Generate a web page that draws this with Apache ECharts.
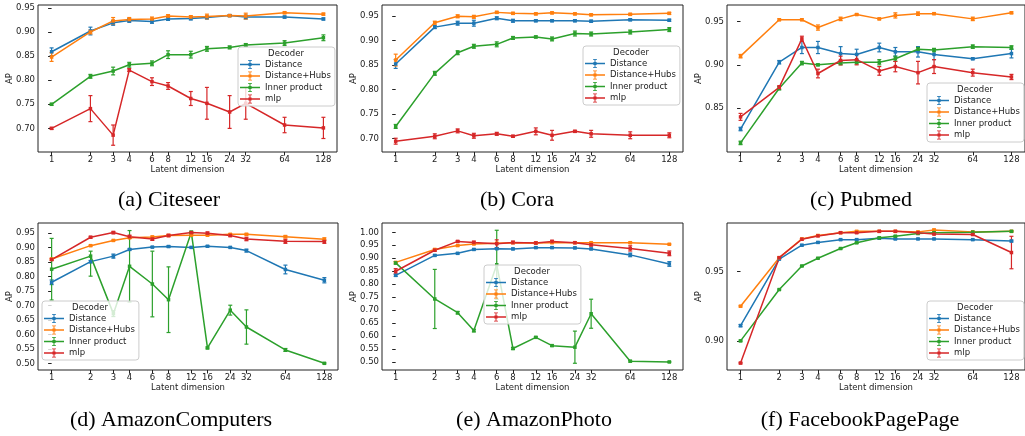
<!DOCTYPE html>
<html>
<head>
<meta charset="utf-8">
<script src="https://cdn.jsdelivr.net/npm/echarts@6/dist/echarts.min.js"></script>
<style>
html, body { margin: 0; padding: 0; background: #fff; }
#chart { width: 1025px; height: 436px; }
</style>
</head>
<body>
<div id="chart"></div>
<script>
// latent dimensions (x axis, log2 scale)
var dims = [1, 2, 3, 4, 6, 8, 12, 16, 24, 32, 64, 128];
var decoders = ['Distance', 'Distance+Hubs', 'Inner product', 'mlp'];
var colors = ['#1f77b4', '#ff7f0e', '#2ca02c', '#d62728'];

// means per decoder, in the order of `decoders`
var citeseerMeans = [
    [0.859, 0.902, 0.919, 0.924, 0.922, 0.927, 0.928, 0.930, 0.934, 0.931, 0.931, 0.927],
    [0.848, 0.900, 0.923, 0.926, 0.927, 0.933, 0.931, 0.932, 0.934, 0.933, 0.940, 0.937],
    [0.750, 0.808, 0.819, 0.832, 0.835, 0.853, 0.853, 0.865, 0.868, 0.873, 0.877, 0.888],
    [0.700, 0.741, 0.686, 0.821, 0.797, 0.788, 0.762, 0.752, 0.734, 0.752, 0.707, 0.701]
];
// error bars: a number (symmetric) or [below, above]
var citeseerErrs = [
    [0.008, 0.008, 0.005, 0.004, 0.004, 0.003, 0.003, 0.003, 0.002, 0.004, 0.002, 0.002],
    [0.009, 0.004, 0.007, 0.004, 0.004, 0.003, 0.003, 0.005, 0.002, 0.006, 0.002, 0.002],
    [0.002, 0.004, 0.008, 0.005, 0.005, 0.008, 0.007, 0.005, 0.003, 0.003, 0.005, 0.006],
    [0.002, 0.027, 0.021, 0.003, 0.008, 0.007, 0.0145, 0.033, 0.034, 0.033, 0.016, 0.022]
];
var citeseerTicks = [0.70, 0.75, 0.80, 0.85, 0.90, 0.95];

var coraMeans = [
    [0.852, 0.927, 0.935, 0.935, 0.945, 0.940, 0.940, 0.940, 0.940, 0.939, 0.942, 0.941],
    [0.860, 0.936, 0.949, 0.948, 0.957, 0.955, 0.954, 0.956, 0.954, 0.952, 0.953, 0.955],
    [0.725, 0.833, 0.875, 0.888, 0.892, 0.905, 0.907, 0.903, 0.914, 0.913, 0.917, 0.922],
    [0.695, 0.705, 0.716, 0.706, 0.710, 0.705, 0.715, 0.707, 0.715, 0.710, 0.707, 0.707]
];
var coraErrs = [
    [0.009, 0.003, 0.004, 0.006, 0.003, 0.003, 0.002, 0.002, 0.002, 0.002, 0.002, 0.002],
    [0.012, 0.003, 0.003, 0.003, 0.002, 0.002, 0.002, 0.002, 0.002, 0.002, 0.002, 0.002],
    [0.004, 0.004, 0.004, 0.004, 0.005, 0.003, 0.002, 0.004, 0.005, 0.004, 0.004, 0.004],
    [0.006, 0.005, 0.004, 0.005, 0.003, 0.002, 0.007, 0.010, 0.002, 0.007, 0.007, 0.005]
];
var coraTicks = [0.70, 0.75, 0.80, 0.85, 0.90, 0.95];

var pubmedMeans = [
    [0.826, 0.903, 0.920, 0.920, 0.913, 0.912, 0.920, 0.915, 0.915, 0.912, 0.907, 0.913],
    [0.910, 0.952, 0.952, 0.943, 0.953, 0.958, 0.953, 0.957, 0.959, 0.959, 0.953, 0.960],
    [0.810, 0.873, 0.902, 0.900, 0.902, 0.903, 0.903, 0.907, 0.918, 0.917, 0.921, 0.920],
    [0.840, 0.874, 0.930, 0.890, 0.905, 0.906, 0.893, 0.898, 0.891, 0.898, 0.891, 0.886]
];
var pubmedErrs = [
    [0.002, 0.002, 0.007, 0.007, 0.008, 0.006, 0.005, 0.005, 0.006, 0.006, 0.001, 0.005],
    [0.002, 0.001, 0.001, 0.003, 0.002, 0.001, 0.001, 0.003, 0.002, 0.001, 0.002, 0.001],
    [0.002, 0.002, 0.002, 0.001, 0.002, 0.002, 0.003, 0.003, 0.002, 0.002, 0.002, 0.002],
    [0.004, 0.002, 0.003, 0.005, 0.005, 0.006, 0.005, 0.006, 0.013, 0.008, 0.004, 0.003]
];
var pubmedTicks = [0.85, 0.90, 0.95];

var computersMeans = [
    [0.780, 0.851, 0.870, 0.893, 0.901, 0.903, 0.900, 0.904, 0.900, 0.889, 0.824, 0.787],
    [0.860, 0.906, 0.924, 0.933, 0.936, 0.941, 0.942, 0.942, 0.945, 0.945, 0.937, 0.928],
    [0.825, 0.870, 0.672, 0.835, 0.774, 0.720, 0.952, 0.554, 0.684, 0.626, 0.547, 0.501],
    [0.858, 0.935, 0.951, 0.937, 0.929, 0.941, 0.951, 0.949, 0.941, 0.929, 0.921, 0.920]
];
var computersErrs = [
    [0.008, 0.004, 0.007, 0.003, 0.002, 0.003, 0.002, 0.002, 0.002, 0.005, 0.015, 0.009],
    [0.003, 0.002, 0.002, 0.002, 0.003, 0.003, 0.002, 0.002, 0.002, 0.003, 0.004, 0.005],
    [0.106, [0.069, 0.017], 0.010, 0.123, 0.113, 0.113, 0.004, 0.003, 0.017, 0.059, 0.005, 0.002],
    [0.003, 0.003, 0.004, 0.005, 0.005, 0.004, 0.002, 0.004, 0.004, 0.006, 0.007, 0.006]
];
var computersTicks = [0.50, 0.55, 0.60, 0.65, 0.70, 0.75, 0.80, 0.85, 0.90, 0.95];

var photoMeans = [
    [0.834, 0.911, 0.919, 0.934, 0.937, 0.936, 0.941, 0.941, 0.940, 0.936, 0.913, 0.878],
    [0.884, 0.934, 0.949, 0.955, 0.958, 0.960, 0.959, 0.960, 0.960, 0.960, 0.960, 0.954],
    [0.882, 0.743, 0.690, 0.621, 0.875, 0.552, 0.595, 0.563, 0.557, 0.686, 0.503, 0.500],
    [0.850, 0.931, 0.965, 0.961, 0.956, 0.961, 0.959, 0.965, 0.960, 0.952, 0.938, 0.919]
];
var photoErrs = [
    [0.004, 0.003, 0.003, 0.003, 0.003, 0.003, 0.003, 0.003, 0.003, 0.003, 0.007, 0.009],
    [0.003, 0.003, 0.002, 0.002, 0.002, 0.002, 0.002, 0.002, 0.002, 0.002, 0.003, 0.002],
    [0.005, 0.114, 0.005, 0.005, 0.133, 0.004, 0.003, 0.003, 0.062, 0.056, 0.003, 0.002],
    [0.010, 0.004, 0.003, 0.005, 0.015, 0.005, 0.004, 0.004, 0.003, 0.005, 0.010, 0.009]
];
var photoTicks = [0.50, 0.55, 0.60, 0.65, 0.70, 0.75, 0.80, 0.85, 0.90, 0.95, 1.00];

var facebookMeans = [
    [0.911, 0.959, 0.969, 0.971, 0.973, 0.973, 0.974, 0.9735, 0.9735, 0.9735, 0.973, 0.972],
    [0.925, 0.960, 0.9735, 0.976, 0.978, 0.979, 0.979, 0.979, 0.9786, 0.980, 0.9786, 0.979],
    [0.900, 0.937, 0.954, 0.9596, 0.9666, 0.9707, 0.9743, 0.9755, 0.9774, 0.978, 0.9784, 0.979],
    [0.884, 0.960, 0.9733, 0.9757, 0.978, 0.978, 0.979, 0.979, 0.978, 0.977, 0.9767, 0.9637]
];
var facebookErrs = [
    [0.0008, 0.0005, 0.0005, 0.0005, 0.0004, 0.0004, 0.0004, 0.0004, 0.0004, 0.0004, 0.0004, 0.0006],
    [0.0005, 0.0004, 0.0004, 0.0004, 0.0004, 0.0004, 0.0004, 0.0004, 0.0004, 0.0006, 0.0004, 0.0004],
    [0.0005, 0.0004, 0.0004, 0.0004, 0.0004, 0.0004, 0.0004, 0.0004, 0.0004, 0.0004, 0.0004, 0.0004],
    [0.0005, 0.0005, 0.0005, 0.0004, 0.0004, 0.0004, 0.0004, 0.0004, 0.0004, 0.0004, 0.0006, 0.0117]
];
var facebookTicks = [0.90, 0.95];

var panels = [
    { caption: '(a) Citeseer', means: citeseerMeans, errs: citeseerErrs, ticks: citeseerTicks,
      grid: [38, 5, 299, 147], yMin: 0.651, yMax: 0.956, legend: [238, 47], capX: 169, capY: 200 },
    { caption: '(b) Cora', means: coraMeans, errs: coraErrs, ticks: coraTicks,
      grid: [382, 5, 301, 147], yMin: 0.673, yMax: 0.972, legend: [583, 46], capX: 517, capY: 200 },
    { caption: '(c) Pubmed', means: pubmedMeans, errs: pubmedErrs, ticks: pubmedTicks,
      grid: [727, 5, 298, 147], yMin: 0.7995, yMax: 0.969, legend: [927, 83], capX: 861, capY: 200 },
    { caption: '(d) AmazonComputers', means: computersMeans, errs: computersErrs, ticks: computersTicks,
      grid: [38, 223, 300, 147], yMin: 0.478, yMax: 0.984, legend: [42, 301], capX: 171, capY: 420 },
    { caption: '(e) AmazonPhoto', means: photoMeans, errs: photoErrs, ticks: photoTicks,
      grid: [382, 223, 301, 147], yMin: 0.469, yMax: 1.036, legend: [484, 265], capX: 534, capY: 420 },
    { caption: '(f) FacebookPagePage', means: facebookMeans, errs: facebookErrs, ticks: facebookTicks,
      grid: [727, 223, 298, 147], yMin: 0.879, yMax: 0.985, legend: [927, 301], capX: 860, capY: 420 }
];

var FONT = 'DejaVu Sans';
var TEXT = '#222';
// legend handle: line, marker and an error bar with caps
var ICON = 'path://M0,4.3H20V5.7H0Z M9.5,0.5H10.5V9.5H9.5Z M8,0.5H12V1.3H8Z M8,8.7H12V9.5H8Z M8.4,3.4H11.6V6.6H8.4Z';

function bounds(m, e) {
    var down = Array.isArray(e) ? e[0] : e;
    var up = Array.isArray(e) ? e[1] : e;
    return [m - down, m + up];
}

function renderErrorBar(params, api) {
    var x = api.value(0);
    var lo = api.coord([x, api.value(1)]);
    var hi = api.coord([x, api.value(2)]);
    var style = { stroke: api.visual('color'), lineWidth: 1.2 };
    return {
        type: 'group',
        children: [
            { type: 'line', shape: { x1: lo[0], y1: lo[1], x2: hi[0], y2: hi[1] }, style: style },
            { type: 'line', shape: { x1: lo[0] - 2, y1: lo[1], x2: lo[0] + 2, y2: lo[1] }, style: style },
            { type: 'line', shape: { x1: hi[0] - 2, y1: hi[1], x2: hi[0] + 2, y2: hi[1] }, style: style }
        ]
    };
}

var chart = echarts.init(document.getElementById('chart'));
var grids = [], xAxes = [], yAxes = [], series = [], legends = [], graphics = [];
var logDims = dims.map(function (d) { return Math.log2(d); });

panels.forEach(function (p, i) {
    grids.push({
        left: p.grid[0], top: p.grid[1], width: p.grid[2], height: p.grid[3],
        show: true, borderColor: '#222', borderWidth: 1, backgroundColor: 'transparent'
    });
    // log2 axis that carries the data
    xAxes.push({
        type: 'log', logBase: 2, gridIndex: i,
        min: Math.pow(2, -0.35), max: Math.pow(2, 7.35),
        axisLine: { show: false }, axisTick: { show: false },
        axisLabel: { show: false }, splitLine: { show: false }
    });
    // companion axis for the tick labels at 1, 2, 3, 4, 6 ...
    xAxes.push({
        type: 'value', gridIndex: i, position: 'bottom',
        min: -0.35, max: 7.35,
        axisLine: { show: false },
        axisTick: { show: true, customValues: logDims, length: 3.5, lineStyle: { color: TEXT } },
        axisLabel: {
            customValues: logDims, margin: 3, fontSize: 8.5, fontFamily: FONT, color: TEXT,
            formatter: function (v) { return String(Math.round(Math.pow(2, v))); }
        },
        splitLine: { show: false },
        name: 'Latent dimension', nameLocation: 'middle', nameGap: 12,
        nameTextStyle: { fontSize: 8.5, fontFamily: FONT, color: TEXT }
    });
    yAxes.push({
        type: 'value', gridIndex: i, min: p.yMin, max: p.yMax,
        axisLine: { show: false },
        axisTick: { show: true, customValues: p.ticks, length: 3.5, lineStyle: { color: TEXT } },
        axisLabel: {
            customValues: p.ticks, margin: 3, fontSize: 8.5, fontFamily: FONT, color: TEXT,
            formatter: function (v) { return v.toFixed(2); }
        },
        splitLine: { show: false }
    });

    decoders.forEach(function (name, k) {
        series.push({
            type: 'line', name: name, xAxisIndex: 2 * i, yAxisIndex: i,
            data: dims.map(function (d, j) { return [d, p.means[k][j]]; }),
            color: colors[k], symbol: 'rect', symbolSize: 3.5, showSymbol: true,
            lineStyle: { width: 1.5 }, emphasis: { disabled: true }
        });
        series.push({
            type: 'custom', name: name, xAxisIndex: 2 * i, yAxisIndex: i,
            data: dims.map(function (d, j) {
                var b = bounds(p.means[k][j], p.errs[k][j]);
                return [d, b[0], b[1]];
            }),
            encode: { x: 0, y: [1, 2] },
            itemStyle: { color: colors[k] },
            renderItem: renderErrorBar
        });
    });

    legends.push({
        orient: 'vertical', left: p.legend[0], top: p.legend[1],
        padding: [13, 4, 2.5, 2], itemGap: 2.5, itemWidth: 20, itemHeight: 10,
        backgroundColor: 'rgba(255,255,255,0.8)', borderColor: '#cccccc', borderWidth: 1, borderRadius: 3,
        selectedMode: false,
        textStyle: { fontSize: 8.5, fontFamily: FONT, color: TEXT },
        data: decoders.map(function (n) { return { name: n, icon: ICON }; })
    });

    // y axis title
    graphics.push({
        type: 'text', x: p.grid[0] - 28, y: p.grid[1] + p.grid[3] / 2, rotation: Math.PI / 2,
        style: { text: 'AP', font: '8.5px "DejaVu Sans"', fill: TEXT, textAlign: 'center', textVerticalAlign: 'middle' }
    });
    graphics.push({
        type: 'text', x: p.legend[0] + 48, y: p.legend[1] + 7, z: 100,
        style: { text: 'Decoder', font: '8.5px "DejaVu Sans"', fill: TEXT, textAlign: 'center', textVerticalAlign: 'middle' }
    });
    graphics.push({
        type: 'text', x: p.capX, y: p.capY,
        style: { text: p.caption, font: '22px "Liberation Serif"', fill: '#000', textAlign: 'center', textVerticalAlign: 'middle' }
    });
});

chart.setOption({
    animation: false,
    grid: grids,
    xAxis: xAxes,
    yAxis: yAxes,
    legend: legends,
    series: series,
    graphic: { elements: graphics }
});
</script>
</body>
</html>
